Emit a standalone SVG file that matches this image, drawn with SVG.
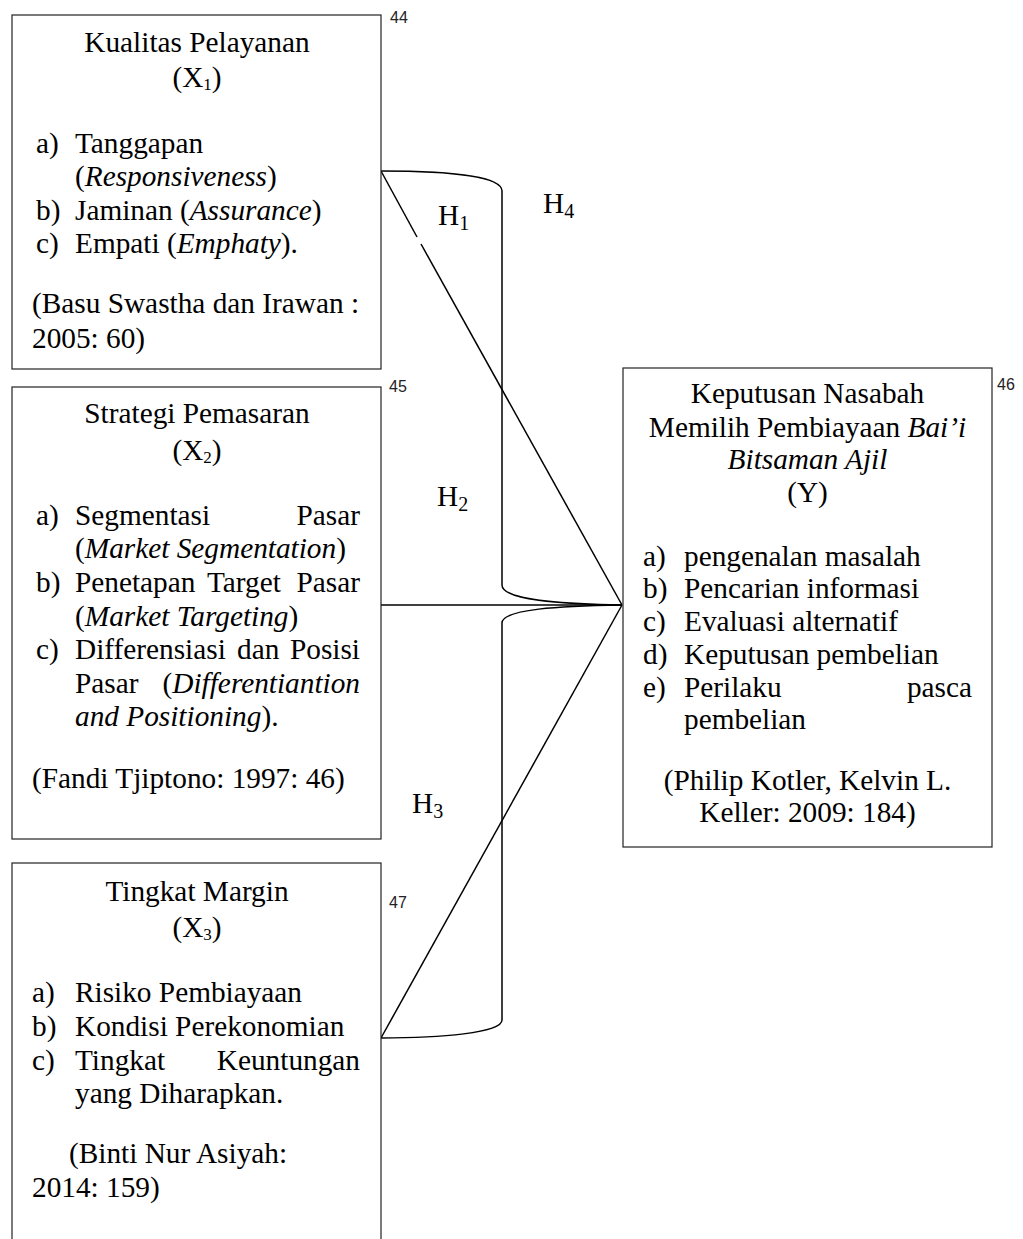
<svg xmlns="http://www.w3.org/2000/svg" width="1023" height="1239" viewBox="0 0 1023 1239">
<style>
.t{font-family:"Liberation Serif","Times New Roman",serif;font-size:29.3px;fill:#000}
.m{text-anchor:middle}
.e{text-anchor:end}
.i{font-style:italic}
.n{font-family:"Liberation Sans",Arial,sans-serif;font-size:16px;fill:#222}
.box{fill:#fff;stroke:#222;stroke-width:1.2}
.c{fill:none;stroke:#000;stroke-width:1.5}
.sub{font-size:17px}
.hs{font-size:20px}
</style>
<rect width="1023" height="1239" fill="#fff"/>
<g id="connectors">
<path class="c" d="M381,171 L417,237"/>
<path class="c" d="M421,244 L622,605"/>
<path class="c" d="M381,1038 L622,605"/>
<path class="c" d="M381,605 L622,605"/>
<path class="c" d="M381,171 C455,171 502,177 502,191 L502,585 C502,600 560,604 622,605"/>
<path class="c" d="M622,605 C560,606 502,609 502,623 L502,1020 C502,1033 440,1038 381,1038"/>
</g>
<g id="labels">
<text class="t" x="438" y="225">H<tspan class="hs" dy="5">1</tspan></text>
<text class="t" x="543" y="213">H<tspan class="hs" dy="5">4</tspan></text>
<text class="t" x="437" y="506">H<tspan class="hs" dy="5">2</tspan></text>
<text class="t" x="412" y="813">H<tspan class="hs" dy="5">3</tspan></text>
</g>
<g id="x1">
<rect class="box" x="12" y="15" width="369" height="354"/>
<text class="n" x="390" y="23">44</text>
<text class="t m" x="197" y="52">Kualitas Pelayanan</text>
<text class="t m" x="197" y="87">(X<tspan class="sub" dy="3">1</tspan><tspan dy="-3">)</tspan></text>
<text class="t" x="36" y="153">a)</text><text class="t" x="75" y="153">Tanggapan</text>
<text class="t" x="75" y="186">(<tspan class="i">Responsiveness</tspan>)</text>
<text class="t" x="36" y="220">b)</text><text class="t" x="75" y="220">Jaminan (<tspan class="i">Assurance</tspan>)</text>
<text class="t" x="36" y="253">c)</text><text class="t" x="75" y="253">Empati (<tspan class="i">Emphaty</tspan>).</text>
<text class="t" x="32" y="313">(Basu Swastha dan Irawan :</text>
<text class="t" x="32" y="348">2005: 60)</text>
</g>
<g id="x2">
<rect class="box" x="12" y="387" width="369" height="452"/>
<text class="n" x="389" y="392">45</text>
<text class="t m" x="197" y="423">Strategi Pemasaran</text>
<text class="t m" x="197" y="460">(X<tspan class="sub" dy="3">2</tspan><tspan dy="-3">)</tspan></text>
<text class="t" x="36" y="525">a)</text><text class="t" x="75" y="525">Segmentasi</text><text class="t e" x="360" y="525">Pasar</text>
<text class="t" x="75" y="558">(<tspan class="i">Market Segmentation</tspan>)</text>
<text class="t" x="36" y="592">b)</text><text class="t" x="75" y="592">Penetapan</text><text class="t" x="207" y="592">Target</text><text class="t e" x="360" y="592">Pasar</text>
<text class="t" x="75" y="626">(<tspan class="i">Market Targeting</tspan>)</text>
<text class="t" x="36" y="659">c)</text><text class="t" x="75" y="659">Differensiasi</text><text class="t" x="237" y="659">dan</text><text class="t e" x="360" y="659">Posisi</text>
<text class="t" x="75" y="693">Pasar</text><text class="t e" x="360" y="693">(<tspan class="i">Differentiantion</tspan></text>
<text class="t" x="75" y="726"><tspan class="i">and Positioning</tspan>).</text>
<text class="t" x="32" y="788">(Fandi Tjiptono: 1997: 46)</text>
</g>
<g id="x3">
<rect class="box" x="12" y="863" width="369" height="400"/>
<text class="n" x="389" y="908">47</text>
<text class="t m" x="197" y="901">Tingkat Margin</text>
<text class="t m" x="197" y="937">(X<tspan class="sub" dy="3">3</tspan><tspan dy="-3">)</tspan></text>
<text class="t" x="32" y="1002">a)</text><text class="t" x="75" y="1002">Risiko Pembiayaan</text>
<text class="t" x="32" y="1036">b)</text><text class="t" x="75" y="1036">Kondisi Perekonomian</text>
<text class="t" x="32" y="1070">c)</text><text class="t" x="75" y="1070">Tingkat</text><text class="t e" x="360" y="1070">Keuntungan</text>
<text class="t" x="75" y="1103">yang Diharapkan.</text>
<text class="t" x="69" y="1163">(Binti Nur Asiyah:</text>
<text class="t" x="32" y="1197">2014: 159)</text>
</g>
<g id="y">
<rect class="box" x="623" y="368" width="369" height="479"/>
<text class="n" x="997" y="390">46</text>
<text class="t m" x="807.5" y="403">Keputusan Nasabah</text>
<text class="t m" x="807.5" y="437">Memilih Pembiayaan <tspan class="i">Bai’i</tspan></text>
<text class="t m i" x="807.5" y="469">Bitsaman Ajil</text>
<text class="t m" x="807.5" y="502">(Y)</text>
<text class="t" x="643" y="566">a)</text><text class="t" x="684" y="566">pengenalan masalah</text>
<text class="t" x="643" y="598">b)</text><text class="t" x="684" y="598">Pencarian informasi</text>
<text class="t" x="643" y="631">c)</text><text class="t" x="684" y="631">Evaluasi alternatif</text>
<text class="t" x="643" y="664">d)</text><text class="t" x="684" y="664">Keputusan pembelian</text>
<text class="t" x="643" y="697">e)</text><text class="t" x="684" y="697">Perilaku</text><text class="t e" x="972" y="697">pasca</text>
<text class="t" x="684" y="729">pembelian</text>
<text class="t m" x="807.5" y="790">(Philip Kotler, Kelvin L.</text>
<text class="t m" x="807.5" y="822">Keller: 2009: 184)</text>
</g>
</svg>
